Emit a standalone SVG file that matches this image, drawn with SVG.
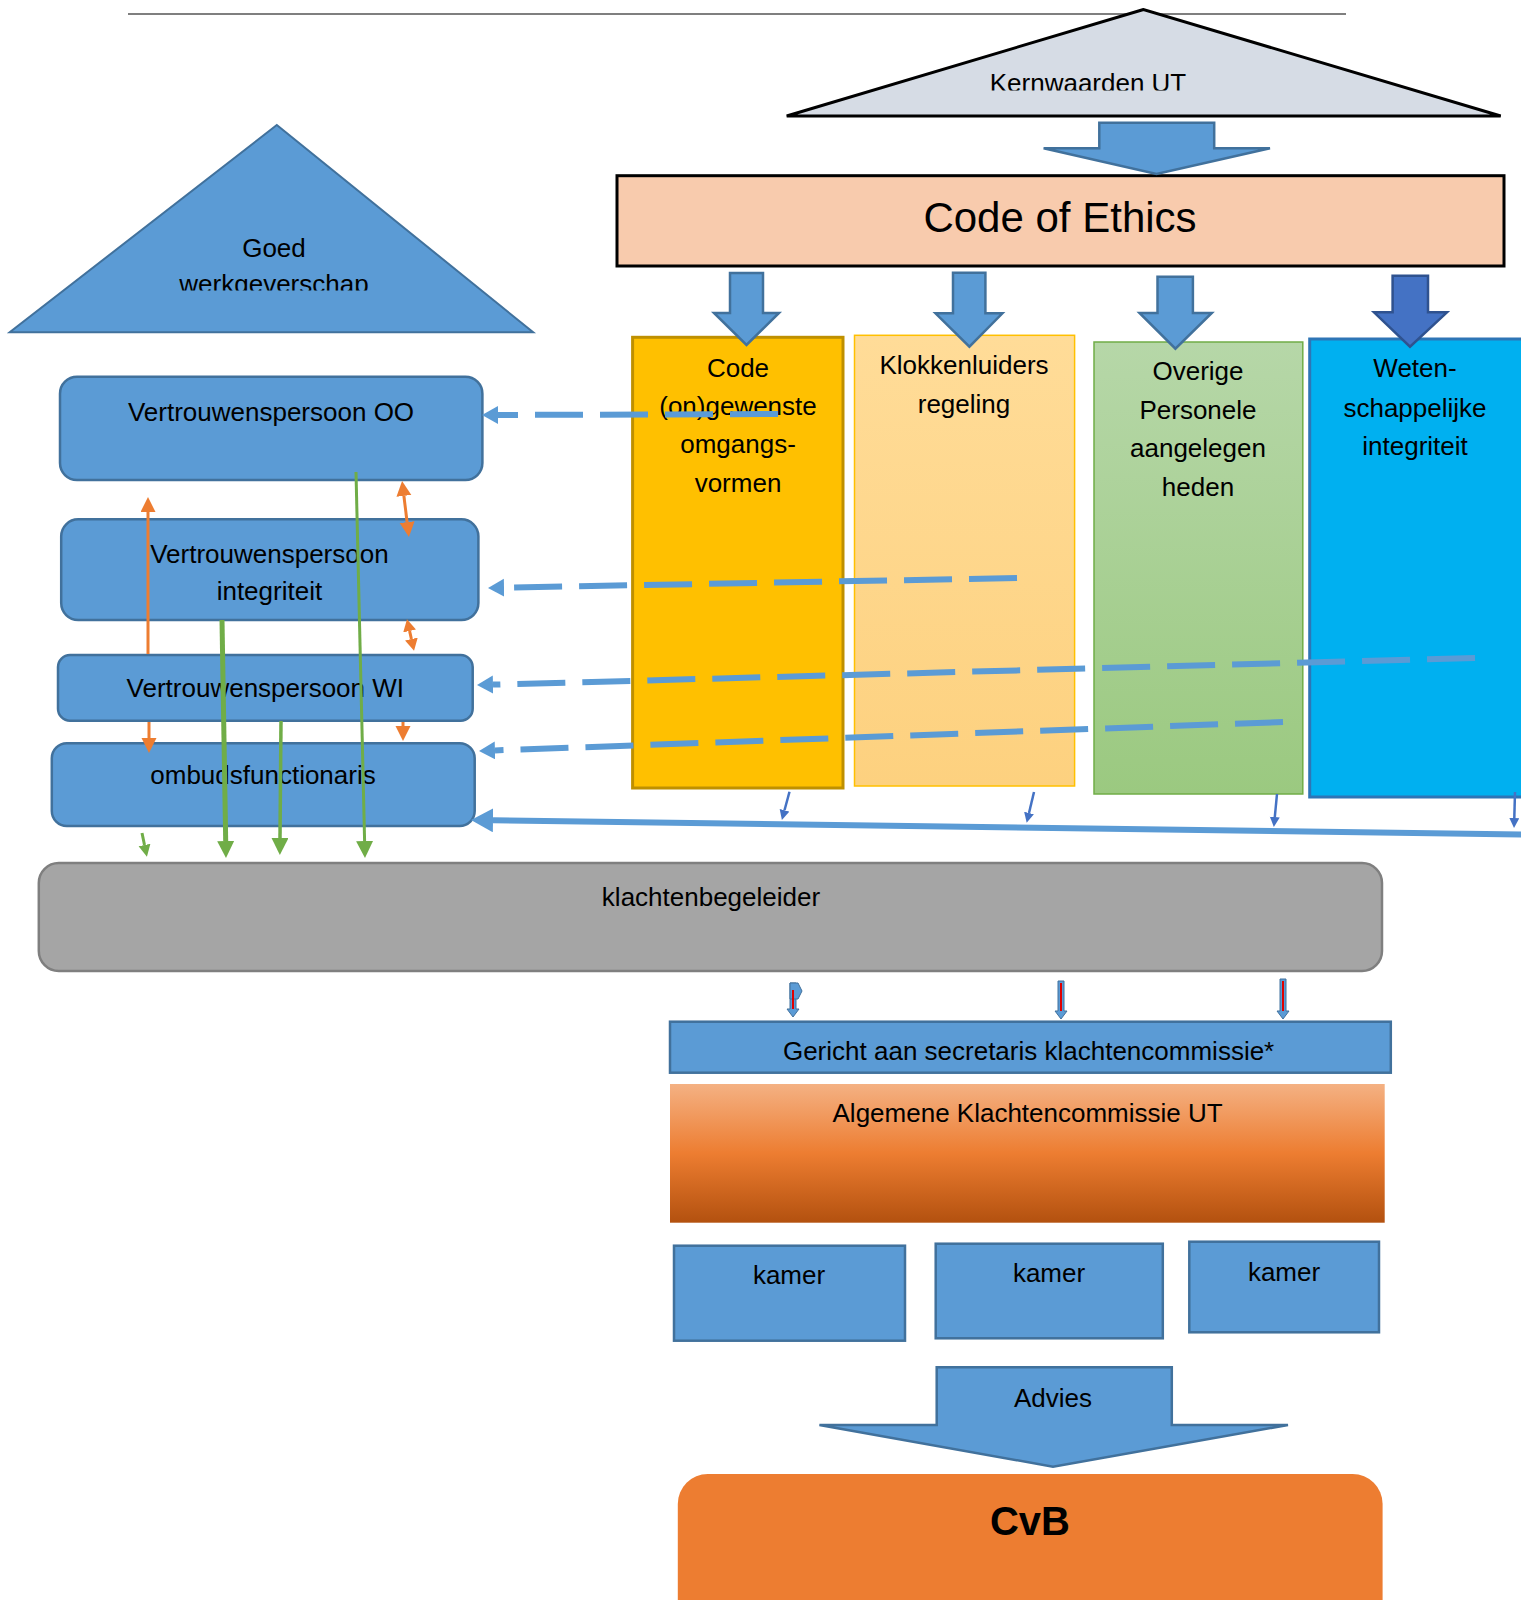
<svg xmlns="http://www.w3.org/2000/svg" width="1521" height="1600" viewBox="0 0 1521 1600">
<style>
text{font-family:"Liberation Sans",Arial,sans-serif;font-size:26px;fill:#000;text-anchor:middle}
.blue{fill:#5b9bd5;stroke:#41719c;stroke-width:2.5}
.big{font-size:42px}
.dash{fill:none;stroke:#5b9bd5;stroke-width:6;stroke-dasharray:48 17}
.org{fill:none;stroke:#ed7d31;stroke-width:3}
.grn{fill:none;stroke:#70ad47;stroke-width:3}
.sb{fill:none;stroke:#4472c4;stroke-width:2.5}
.redl{stroke:#e00000;stroke-width:2}
</style>
<defs>
<marker id="mBlue" markerUnits="userSpaceOnUse" markerWidth="18" markerHeight="20" refX="0" refY="9" orient="auto"><path d="M0,0 L16,9 L0,18 z" fill="#5b9bd5"/></marker>
<marker id="mBlueL" markerUnits="userSpaceOnUse" markerWidth="24" markerHeight="26" refX="0" refY="12" orient="auto"><path d="M0,0 L22,12 L0,24 z" fill="#5b9bd5"/></marker>
<marker id="mSB" markerUnits="userSpaceOnUse" markerWidth="12" markerHeight="12" refX="0" refY="5" orient="auto"><path d="M0,0 L10,5 L0,10 z" fill="#4472c4"/></marker>
<marker id="mOrg" markerUnits="userSpaceOnUse" markerWidth="16" markerHeight="16" refX="0" refY="7.5" orient="auto-start-reverse"><path d="M0,0 L15,7.5 L0,15 z" fill="#ed7d31"/></marker>
<marker id="mOrgS" markerUnits="userSpaceOnUse" markerWidth="14" markerHeight="14" refX="0" refY="6.5" orient="auto-start-reverse"><path d="M0,0 L12,6.5 L0,13 z" fill="#ed7d31"/></marker>
<marker id="mGrn" markerUnits="userSpaceOnUse" markerWidth="18" markerHeight="18" refX="0" refY="8.5" orient="auto"><path d="M0,0 L17,8.5 L0,17 z" fill="#70ad47"/></marker>
<marker id="mGrnS" markerUnits="userSpaceOnUse" markerWidth="14" markerHeight="14" refX="0" refY="6" orient="auto"><path d="M0,0 L12,6 L0,12 z" fill="#70ad47"/></marker>
<linearGradient id="gKlok" x1="0" y1="0" x2="0" y2="1"><stop offset="0" stop-color="#ffdc98"/><stop offset="1" stop-color="#fdd17f"/></linearGradient>
<linearGradient id="gOver" x1="0" y1="0" x2="0" y2="1"><stop offset="0" stop-color="#b6d7a8"/><stop offset="1" stop-color="#9bc980"/></linearGradient>
<linearGradient id="gAlg" x1="0" y1="0" x2="0" y2="1"><stop offset="0" stop-color="#f4b183"/><stop offset="0.5" stop-color="#ed7d31"/><stop offset="1" stop-color="#b3510f"/></linearGradient>
<clipPath id="cKern"><rect x="780" y="0" width="730" height="90.5"/></clipPath>
<clipPath id="cGoed"><rect x="0" y="120" width="540" height="170.5"/></clipPath>
</defs>

<line x1="128" y1="14" x2="1346" y2="14" stroke="#555" stroke-width="1.5"/>

<g id="kernwaarden">
<polygon points="1143.5,9.5 786.7,116 1500.7,116" fill="#d6dce5" stroke="#000" stroke-width="3"/>
<text x="1088" y="92" clip-path="url(#cKern)">Kernwaarden UT</text>
</g>

<g id="goed-werkgeverschap">
<polygon points="276.8,125 9.7,332.3 533.2,332.3" fill="#5b9bd5" stroke="#41719c" stroke-width="2"/>
<g clip-path="url(#cGoed)">
<text x="274" y="256.7">Goed</text>
<text x="274" y="293">werkgeverschap</text>
</g>
</g>

<g id="code-of-ethics">
<rect x="617" y="175.7" width="887" height="90.3" fill="#f8cbad" stroke="#000" stroke-width="3"/>
<text class="big" x="1060" y="232">Code of Ethics</text>
</g>

<g id="col-code">
<rect x="632.6" y="337.3" width="210.4" height="450.7" fill="#ffc000" stroke="#bf9000" stroke-width="3"/>
<text x="738" y="376.7">Code</text>
<text x="738" y="415">(on)gewenste</text>
<text x="738" y="453.3">omgangs-</text>
<text x="738" y="491.7">vormen</text>
</g>

<g id="col-klokkenluiders">
<rect x="854.5" y="335.3" width="220.1" height="450.7" fill="url(#gKlok)" stroke="#ffc000" stroke-width="1.5"/>
<text x="964" y="373.5">Klokkenluiders</text>
<text x="964" y="412.5">regeling</text>
</g>

<g id="col-overige">
<rect x="1094" y="342" width="208.8" height="452" fill="url(#gOver)" stroke="#70ad47" stroke-width="1.5"/>
<text x="1198" y="380">Overige</text>
<text x="1198" y="419">Personele</text>
<text x="1198" y="457">aangelegen</text>
<text x="1198" y="496">heden</text>
</g>

<g id="col-wetenschappelijk">
<rect x="1309.7" y="339" width="220" height="458" fill="#00b0f0" stroke="#2e75b6" stroke-width="3"/>
<text x="1415" y="377.3">Weten-</text>
<text x="1415" y="416.7">schappelijke</text>
<text x="1415" y="455">integriteit</text>
</g>

<g id="block-arrows">
<polygon class="blue" points="1099.3,122.7 1214.2,122.7 1214.2,148.3 1270,148.3 1156.5,174 1043.6,148.3 1099.3,148.3"/>
<polygon class="blue" points="730,273 763,273 763,313 779,313 746.5,345 714,313 730,313"/>
<polygon class="blue" points="953,272.7 985.4,272.7 985.4,313.3 1002.4,313.3 969.4,346.7 935.5,313.3 953,313.3"/>
<polygon class="blue" points="1157.5,276.7 1192.9,276.7 1192.9,313 1211.8,313 1175.4,348.7 1139.5,313 1157.5,313"/>
<polygon points="1392.6,275.7 1428,275.7 1428,312.3 1447,312.3 1410,346.7 1374,312.3 1392.6,312.3" fill="#4472c4" stroke="#2f528f" stroke-width="2.5"/>
</g>

<g id="vp-oo">
<rect class="blue" x="60" y="376.7" width="422.4" height="103.3" rx="17"/>
<text x="271" y="421">Vertrouwenspersoon OO</text>
</g>

<g id="vp-integriteit">
<rect class="blue" x="61.2" y="519.3" width="417.2" height="100.7" rx="17"/>
<text x="269.4" y="562.7">Vertrouwenspersoon</text>
<text x="269.4" y="600">integriteit</text>
</g>

<g id="vp-wi">
<rect class="blue" x="58" y="655" width="414.7" height="65.7" rx="12"/>
<text x="265.3" y="696.7">Vertrouwenspersoon WI</text>
</g>

<g id="ombudsfunctionaris">
<rect class="blue" x="51.8" y="743.3" width="422.9" height="82.7" rx="15"/>
<text x="263" y="784.3">ombudsfunctionaris</text>
</g>

<g id="klachtenbegeleider">
<rect x="38.8" y="863" width="1343.2" height="108" rx="20" fill="#a5a5a5" stroke="#7f7f7f" stroke-width="2.5"/>
<text x="711" y="906">klachtenbegeleider</text>
</g>

<g id="gericht">
<rect class="blue" x="670" y="1021.7" width="720.8" height="51"/>
<text x="1028.6" y="1060">Gericht aan secretaris klachtencommissie*</text>
</g>

<g id="algemene-klachtencommissie">
<rect x="670" y="1084" width="714.7" height="138.7" fill="url(#gAlg)"/>
<text x="1027.6" y="1121.7">Algemene Klachtencommissie UT</text>
</g>

<g id="kamer-1">
<rect class="blue" x="674" y="1245.7" width="231" height="95"/>
<text x="789" y="1284">kamer</text>
</g>
<g id="kamer-2">
<rect class="blue" x="935.7" y="1243.7" width="227.1" height="94.6"/>
<text x="1049" y="1282.3">kamer</text>
</g>
<g id="kamer-3">
<rect class="blue" x="1189.3" y="1241.7" width="189.7" height="90.6"/>
<text x="1284" y="1280.7">kamer</text>
</g>

<g id="advies">
<polygon class="blue" points="936.7,1367.3 1171.8,1367.3 1171.8,1425 1288,1425 1053,1466.7 819.4,1425 936.7,1425"/>
<text x="1053" y="1406.7">Advies</text>
</g>

<g id="cvb">
<rect x="677.8" y="1474" width="704.8" height="170" rx="30" fill="#ed7d31"/>
<text x="1030" y="1535" style="font-size:40px;font-weight:bold">CvB</text>
</g>

<g id="connectors">
<path class="dash" d="M778,414 L498,415" marker-end="url(#mBlue)"/>
<path class="dash" d="M1017,578 L504,587.7" marker-end="url(#mBlue)"/>
<path class="dash" d="M1475,658 L493,684.6" marker-end="url(#mBlue)"/>
<path class="dash" d="M1283,722 L495,750.4" marker-end="url(#mBlue)"/>
<path d="M1530,834.6 L493,820.3" fill="none" stroke="#5b9bd5" stroke-width="6" marker-end="url(#mBlueL)"/>

<path class="sb" d="M789.5,791.7 L784.5,810.3" marker-end="url(#mSB)"/>
<path class="sb" d="M1034,792 L1029,813" marker-end="url(#mSB)"/>
<path class="sb" d="M1277,794 L1274.8,817" marker-end="url(#mSB)"/>
<path class="sb" d="M1515,792 L1514.3,818" marker-end="url(#mSB)"/>

<path class="org" d="M148,654 L148,512" marker-end="url(#mOrg)"/>
<path class="org" d="M149,722 L149,738" marker-end="url(#mOrg)"/>
<path class="org" d="M403.9,495.9 L407.1,522.1" marker-start="url(#mOrg)" marker-end="url(#mOrg)"/>
<path class="org" d="M409.6,631 L411.4,639" marker-start="url(#mOrgS)" marker-end="url(#mOrgS)"/>
<path class="org" d="M403,722 L403,726" marker-end="url(#mOrg)"/>

<path class="grn" d="M356,472 L364.6,841" marker-end="url(#mGrn)"/>
<path class="grn" d="M222,620 L225.7,841" style="stroke-width:5" marker-end="url(#mGrn)"/>
<path class="grn" d="M281,721 L280,838" style="stroke-width:3.5" marker-end="url(#mGrn)"/>
<path class="grn" d="M142,833 L144.5,845" marker-end="url(#mGrnS)"/>

<g id="to-secretaris">
<polygon class="blue" style="stroke-width:1" points="790,983 796,983 796,1009 799,1009 793,1017 787,1009 790,1009"/>
<polygon class="blue" style="stroke-width:1" points="790,983 798,983 802,991 798,999 790,999"/>
<line class="redl" x1="793" y1="990" x2="793" y2="1009"/>
<polygon class="blue" style="stroke-width:1" points="1058,981 1064,981 1064,1011 1067,1011 1061,1019 1055,1011 1058,1011"/>
<line class="redl" x1="1061" y1="983" x2="1061" y2="1011"/>
<polygon class="blue" style="stroke-width:1" points="1280,979 1286,979 1286,1011 1289,1011 1283,1019 1277,1011 1280,1011"/>
<line class="redl" x1="1283" y1="981" x2="1283" y2="1011"/>
</g>
</g>
</svg>
